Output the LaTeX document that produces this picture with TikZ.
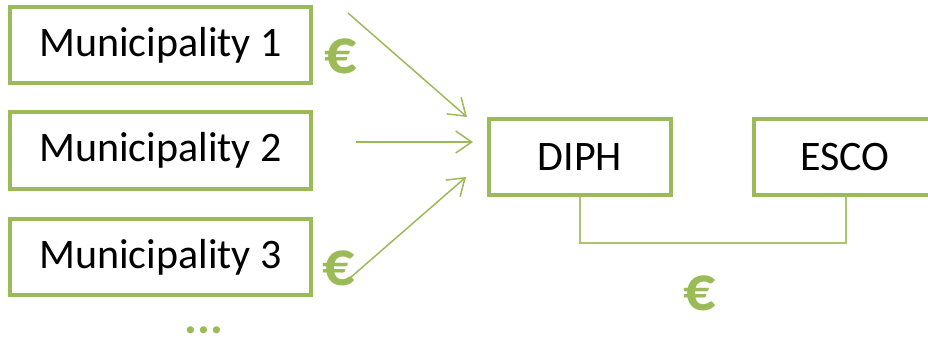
\documentclass[tikz,border=0pt]{standalone}
\usepackage{fontspec}
\setmainfont{Carlito}
\usetikzlibrary{arrows.meta}
\definecolor{olive}{HTML}{9BBB59}
\definecolor{oliveline}{HTML}{A9C66F}
\tikzset{
  box/.style={draw=olive, line width=4pt, minimum height=76pt, font=\fontsize{42}{48}\selectfont, text=black, inner sep=0pt},
  flow/.style={draw=olive, line width=1.5pt, -{Straight Barb[length=16pt,width=22pt,line width=1.5pt]}},
  euro/.style={text=olive, font=\fontsize{64}{70}\selectfont\bfseries, inner sep=0pt},
  link/.style={draw=oliveline, line width=1.5pt}
}
\begin{document}
\begin{tikzpicture}[x=1pt,y=-1pt]
\useasboundingbox (0,0) rectangle (928,339);
\clip (0,0) rectangle (928,339);
\node[box, minimum width=301pt] (m1) at (160.5,45) {Municipality 1};
\node[box, minimum width=301pt] (m2) at (160.5,150.5) {Municipality 2};
\node[box, minimum width=301pt] (m3) at (160.5,257) {Municipality 3};
\node[box, minimum width=182pt] (diph) at (580,157) {DIPH};
\node[box, minimum width=182pt] (esco) at (845,157) {ESCO};
\node[euro, anchor=base] (e1) at (341,74) {€};
\node[euro, anchor=base] (e3) at (339,285) {€};
\node[euro, anchor=base] (e4) at (700,310) {€};
\node[text=olive, font=\fontsize{48}{52}\selectfont\bfseries, inner sep=0pt, anchor=base] (dots) at (204,333) {...};
\coordinate (s1) at (348,13);
\coordinate (t1) at (467,117);
\coordinate (s2) at (356,142);
\coordinate (t2) at (473,142);
\coordinate (s3) at (350,278);
\coordinate (t3) at (466,177);
\draw[flow] (s1) -- (t1);
\draw[flow] (s2) -- (t2);
\draw[flow] (s3) -- (t3);
\coordinate (c1) at (580,243);
\coordinate (c2) at (846,243);
\draw[link] (diph.south) -- (c1) -- (c2) -- (esco.south -| c2);
\end{tikzpicture}
\end{document}
